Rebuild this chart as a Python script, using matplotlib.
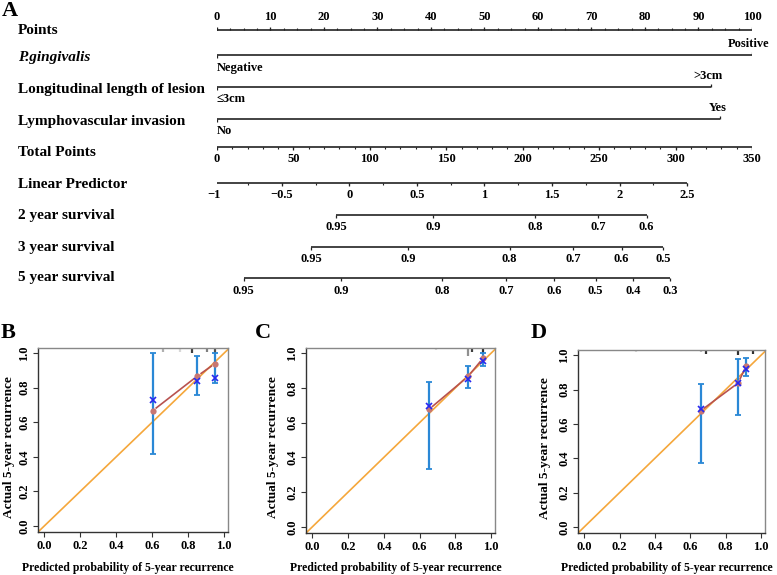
import numpy as np
import matplotlib.pyplot as plt
import matplotlib.transforms as mtransforms

plt.rcParams['font.family'] = ['Liberation Serif', 'DejaVu Serif']
plt.rcParams['font.weight'] = 'bold'

W, H = 777, 575

# ---- nomogram (panel A) ----
points_major = np.arange(0, 101, 10)
points_minor = np.arange(0, 100.1, 2.5)
total_major = np.arange(0, 351, 50)
total_minor = np.arange(0, 351, 10)
lp_major = [-1, -0.5, 0, 0.5, 1, 1.5, 2, 2.5]
lp_labels = ['\u22121', '\u22120.5', '0', '0.5', '1', '1.5', '2', '2.5']
lp_minor = np.arange(-1, 2.51, 0.25)

var_names = ['P.gingivalis', 'Longitudinal length of lesion', 'Lymphovascular invasion']
var_levels = [['Negative', 'Positive'], ['\u22643cm', '>3cm'], ['No', 'Yes']]
var_points = [[0, 100], [0, 92.3], [0, 94.1]]

# linear predictor = lp_at_zero + lp_per_point * total points
lp_at_zero = -0.979
lp_per_point = 0.01131

surv_years = [2, 3, 5]
surv_log_h0 = [-2.872, -2.687, -2.189]   # log baseline cumulative hazard
surv_ticks = [[0.95, 0.9, 0.8, 0.7, 0.6],
              [0.95, 0.9, 0.8, 0.7, 0.6, 0.5],
              [0.95, 0.9, 0.8, 0.7, 0.6, 0.5, 0.4, 0.3]]

# ---- calibration curves (panels B, C, D) ----
cal_pred = [[0.603, 0.852, 0.950], [0.653, 0.871, 0.955], [0.658, 0.870, 0.915]]
cal_obs = [[0.667, 0.868, 0.940], [0.677, 0.866, 0.971], [0.676, 0.838, 0.936]]
cal_corr = [[0.729, 0.841, 0.855], [0.697, 0.853, 0.958], [0.688, 0.838, 0.920]]
cal_lo = [[0.416, 0.758, 0.830], [0.333, 0.801, 0.924], [0.374, 0.653, 0.881]]
cal_hi = [[1.0, 0.984, 1.0], [0.834, 0.929, 1.0], [0.834, 0.980, 0.984]]
rug_x = [[0.661, 0.754, 0.824, 0.907, 0.950],
         [0.690, 0.871, 0.895, 0.955],
         [0.295, 0.658, 0.686, 0.872, 0.953]]
rug_col = [['#b0b0b0', '#d8d8d8', '#404040', '#808080', '#505050'],
           ['#d8d8d8', '#909090', '#404040', '#303030'],
           ['#d8d8d8', '#c0c0c0', '#303030', '#303030', '#303030']]
rug_len = [[0.02, 0.02, 0.025, 0.02, 0.03],
           [0.01, 0.045, 0.02, 0.03],
           [0.01, 0.01, 0.02, 0.025, 0.02]]

LC = '#222222'


def lp_to_tp(lp):
    return (np.asarray(lp) - lp_at_zero) / lp_per_point


fig = plt.figure(figsize=(W / 100, H / 100), dpi=100)

ax = fig.add_axes([217 / W, 0, 535 / W, 1])
ax.set_xlim(0, 350)
ax.set_ylim(H, 0)
ax.axis('off')
lab_tr = mtransforms.blended_transform_factory(fig.transFigure, ax.transData)

row_y = [30, 55, 87, 119, 147, 183, 215, 247, 278]
label_y = [31, 58, 90, 121, 152, 184, 215, 247, 278]
row_names = ['Points'] + var_names + ['Total Points', 'Linear Predictor'] + \
    ['%d year survival' % y for y in surv_years]

for i, name in enumerate(row_names):
    ax.text(18 / W, label_y[i], name, transform=lab_tr, fontsize=11,
            fontweight='bold', va='center', ha='left',
            style='italic' if i == 1 else 'normal')


def draw_axis(y, major, labels, minor, up, tick=3.2, mtick=2.2):
    ax.plot([min(major), max(major)], [y, y], color=LC, lw=1.2,
            solid_capstyle='butt')
    d = -1 if up else 1
    if minor is not None:
        ax.vlines(minor, y, y + d * mtick, color=LC, lw=0.8)
    ax.vlines(major, y, y + d * tick, color=LC, lw=0.9)
    for x, s in zip(major, labels):
        ax.text(x, y + d * 12.5, s, ha='center', va='center', fontsize=9,
                fontweight='bold')


# Points
draw_axis(row_y[0], points_major * 3.5, [str(v) for v in points_major],
          points_minor * 3.5, up=True)

# variables
for i in range(3):
    y = row_y[1 + i]
    xs = np.array(var_points[i]) * 3.5
    ax.plot([xs[0], xs[1]], [y, y], color=LC, lw=1.2, solid_capstyle='butt')
    ax.vlines(xs[0], y, y + 3.2, color=LC, lw=0.9)
    ax.vlines(xs[1], y, y - 3.2, color=LC, lw=0.9)
    ax.text(xs[0], y + 12.5, var_levels[i][0], ha='left', va='center',
            fontsize=9, fontweight='bold')
    ax.text(xs[1] - 2, y - 11, var_levels[i][1], ha='center', va='center',
            fontsize=9, fontweight='bold')

# Total points
draw_axis(row_y[4], total_major, [str(v) for v in total_major], total_minor,
          up=False)

# Linear predictor
draw_axis(row_y[5], lp_to_tp(lp_major), lp_labels, lp_to_tp(lp_minor), up=False)

# Survival
for k in range(3):
    s = np.array(surv_ticks[k])
    lp = np.log(-np.log(s)) - surv_log_h0[k]
    draw_axis(row_y[6 + k], lp_to_tp(lp), [('%g' % v) for v in s], None,
              up=False)

fig.text(2 / W, 1 - 11 / H, 'A', fontsize=16, fontweight='bold', va='center')

# ---- calibration panels ----
boxes = [[38, 228, 348, 532], [306, 495, 348, 533], [578, 765, 350, 533]]
letters = ['B', 'C', 'D']
letter_x = [8, 263, 539]
ylab_x = [9, 273, 545]

for p in range(3):
    l, r, t, b = boxes[p]
    cax = fig.add_axes([l / W, 1 - b / H, (r - l) / W, (b - t) / H])
    cax.set_xlim(-0.035, 1.022)
    cax.set_ylim(-0.035, 1.03)
    for side in ['left', 'bottom']:
        cax.spines[side].set_color('#333333')
    for side in ['top', 'right']:
        cax.spines[side].set_color('#888888')
    for sp in cax.spines.values():
        sp.set_linewidth(1.0)
    cax.set_xticks(np.arange(0, 1.01, 0.2))
    cax.set_yticks(np.arange(0, 1.01, 0.2))
    cax.set_xticklabels(['%.1f' % v for v in np.arange(0, 1.01, 0.2)],
                        fontsize=9, fontweight='bold')
    cax.set_yticklabels(['%.1f' % v for v in np.arange(0, 1.01, 0.2)],
                        fontsize=9, fontweight='bold', rotation=90, va='center')
    cax.tick_params(length=3.5, width=0.8, color='#333333', pad=2)

    cax.plot([-0.1, 1.1], [-0.1, 1.1], color='#f5a73b', lw=1.2, zorder=1)

    for x, c, ln in zip(rug_x[p], rug_col[p], rug_len[p]):
        cax.plot([x, x], [1, 1 - ln], transform=cax.get_xaxis_transform(),
                 color=c, lw=1.6, solid_capstyle='butt', zorder=2)

    pr = np.array(cal_pred[p])
    ob = np.array(cal_obs[p])
    cax.errorbar(pr, (np.array(cal_lo[p]) + np.array(cal_hi[p])) / 2,
                 yerr=(np.array(cal_hi[p]) - np.array(cal_lo[p])) / 2,
                 fmt='none', ecolor='#2a88d6', elinewidth=1.6, capsize=2.2,
                 capthick=1.3, zorder=3)

    # connecting line with gaps around points (R type = "b")
    pts = cax.transData.transform(np.column_stack([pr, ob]))
    inv = cax.transData.inverted()
    for j in range(len(pts) - 1):
        a, bb = pts[j], pts[j + 1]
        v = bb - a
        n = np.hypot(*v)
        if n > 10:
            a2 = a + v / n * 4.5
            b2 = bb - v / n * 4.5
            seg = inv.transform(np.array([a2, b2]))
            cax.plot(seg[:, 0], seg[:, 1], color='#b8524f', lw=1.2, zorder=4)
    cax.plot(pr, ob, 'o', ms=4.5, color='#c87772', mec='none', zorder=5)
    cax.plot(pr, cal_corr[p], 'x', ms=5, mew=1.2, color='#2828f0', zorder=6)

    fig.text(letter_x[p] / W, 1 - 333 / H, letters[p], fontsize=16,
             fontweight='bold', ha='center', va='center')
    fig.text(ylab_x[p] / W, 1 - ((t + b) / 2 + 7) / H,
             'Actual 5-year recurrence', rotation=90, fontsize=9.5,
             fontweight='bold', ha='center', va='center')
    fig.text(((l + r) / 2 - 5) / W, 1 - 568 / H,
             'Predicted probability of 5-year recurrence', fontsize=8.5,
             fontweight='bold', ha='center', va='center')

fig.savefig('out.png', dpi=100)
